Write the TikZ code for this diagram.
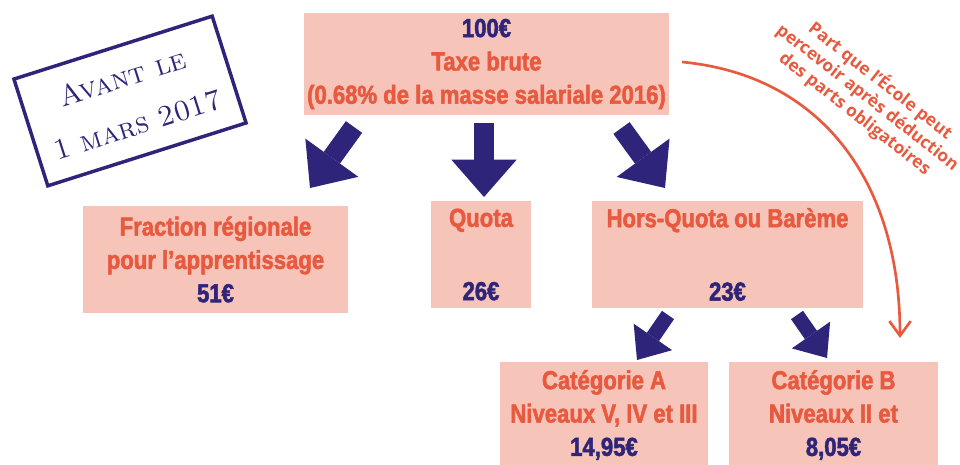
\documentclass[tikz,border=0pt]{standalone}
\usepackage{fontspec}
\usepackage{tikz}
\usetikzlibrary{arrows.meta}
\newfontfamily\boxfont[FakeStretch=0.85,FakeBold=2]{Liberation Sans}
\newfontfamily\notefont{Open Sans}
\definecolor{boxpink}{HTML}{F6C4B8}
\definecolor{taxeorange}{HTML}{E85A3F}
\definecolor{stampblue}{HTML}{2E2479}
\newcommand{\somme}[1]{\textcolor{stampblue}{#1}}

\begin{document}
\begin{tikzpicture}[x=0.75pt,y=-0.75pt,
	sz/.style 2 args={minimum width=#1*0.75pt,minimum height=#2*0.75pt},
	taxbox/.style={fill=boxpink,inner sep=0pt,align=center,text=taxeorange,font=\boxfont\bfseries\fontsize{19.5}{25}\selectfont},
	bigarrow/.style={stampblue,line width=15pt,-{Triangle[length=28pt,width=49pt,line width=0pt]}},
	smallarrow/.style={stampblue,line width=11pt,-{Triangle[length=21pt,width=35pt,line width=0pt]}}]
	\useasboundingbox (0,0) rectangle (960,464);
	\clip (0,0) rectangle (960,464);
	\node[taxbox,sz={365}{102}] (brute) at (486.5,64) {\somme{100€}\\Taxe brute\\(0.68\% de la masse salariale 2016)};
	\node[taxbox,sz={265}{107}] (region) at (215.5,259.5) {Fraction régionale\\pour l’apprentissage\\\somme{51€}};
	\node[taxbox,sz={100}{107}] (quota) at (481,254.5) {Quota\\[30pt]\somme{26€}};
	\node[taxbox,sz={271}{107}] (bareme) at (727.5,254.5) {Hors-Quota ou Barème\\[30pt]\somme{23€}};
	\node[taxbox,sz={208}{106}] (catA) at (604,415) {Catégorie A\\Niveaux V, IV et III\\\somme{14,95€}};
	\node[taxbox,sz={209}{106}] (catB) at (833.5,415) {Catégorie B\\Niveaux II et\\\somme{8,05€}};
	\node[draw=stampblue,line width=2.6pt,sz={208}{112},rotate=17.6,align=center,text=stampblue,font=\scshape\fontsize{22}{37}\selectfont] (stamp) at (130,101) {Avant le\\1 mars 2017};
	\node[rotate=-38,align=center,text=taxeorange,font=\notefont\bfseries\fontsize{13}{15.5}\selectfont] (part) at (868,97) {Part que l’École peut\\percevoir après déduction\\des parts obligatoires};
	\coordinate (b1) at (354,127); \coordinate (r1) at (310,188);
	\coordinate (b2) at (484,123); \coordinate (q1) at (484,197);
	\coordinate (b3) at (621.5,128); \coordinate (h1) at (665,188);
	\coordinate (h2) at (668,315); \coordinate (a1) at (637,360);
	\coordinate (h3) at (797,315); \coordinate (c1) at (827,358);
	\coordinate (s0) at (682,62); \coordinate (s1) at (900,338);
	\draw[bigarrow] (b1) -- (r1);
	\draw[bigarrow] (b2) -- (q1);
	\draw[bigarrow] (b3) -- (h1);
	\draw[smallarrow] (h2) -- (a1);
	\draw[smallarrow] (h3) -- (c1);
	\draw[taxeorange,line width=2pt,-{Straight Barb[length=11pt,width=16pt]}] (s0) .. controls (820,75) and (900,180) .. (s1);
\end{tikzpicture}
\end{document}
